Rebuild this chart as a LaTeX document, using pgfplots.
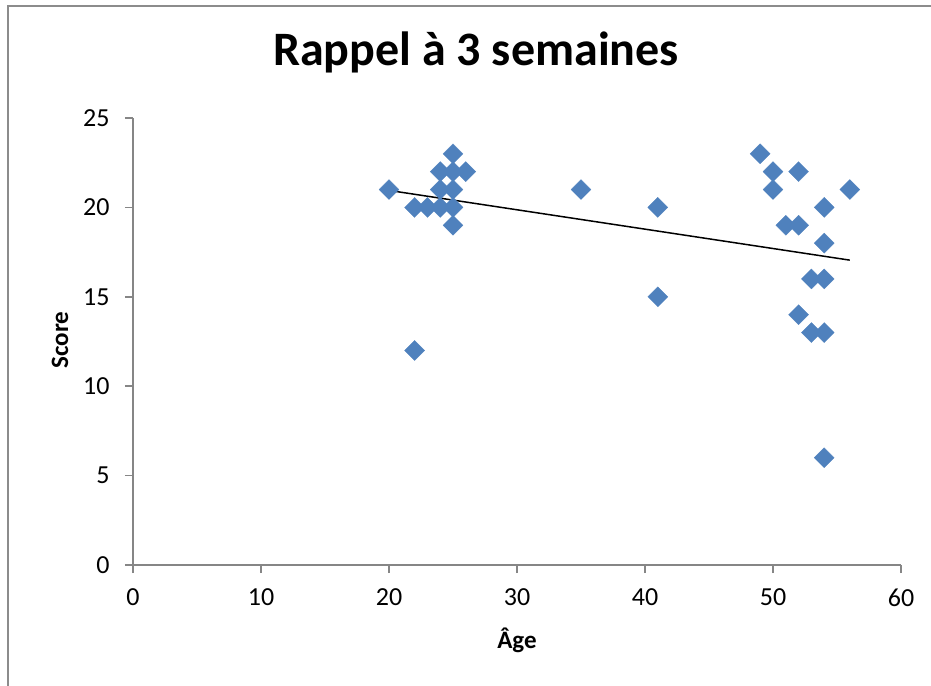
\documentclass[border=0pt]{standalone}
\usepackage{pgfplots}
\pgfplotsset{compat=1.18}
\usepackage{fontspec}
\setmainfont{Carlito}
\definecolor{markblue}{HTML}{4F81BD}
\definecolor{axisgray}{HTML}{868686}
\definecolor{framegray}{HTML}{8C8C8C}

\pgfplotstableread{
age score
20 21
25 23
24 22
25 22
26 22
24 21
25 21
22 20
23 20
24 20
25 20
25 19
22 12
35 21
41 20
41 15
49 23
50 22
52 22
50 21
56 21
54 20
51 19
52 19
54 18
53 16
54 16
52 14
53 13
54 13
54 6
}\scoredata

\begin{document}
\begin{tikzpicture}
  \useasboundingbox (0bp,0bp) rectangle (931bp,686bp);
  % chart frame (cropped at right and bottom)
  \draw[framegray, line width=1.5bp] (8bp,0bp) -- (8bp,680bp) -- (931bp,680bp);

  \begin{axis}[
    at={(133bp,121bp)}, anchor=south west,
    scale only axis,
    width=768bp, height=447bp,
    xmin=0, xmax=60,
    ymin=0, ymax=25,
    xtick={0,10,...,60},
    ytick={0,5,...,25},
    axis lines*=left,
    axis line style={axisgray, line width=1.5bp},
    tick align=outside,
    major tick length=8bp,
    tick style={axisgray, line width=1.5bp},
    /pgf/number format/assume math mode=true,
    ticklabel style={font=\fontsize{26bp}{30bp}\selectfont, text=black},
    xticklabel style={yshift=-12bp},
    yticklabel style={xshift=-12bp},
    title={Rappel à 3 semaines},
    title style={at={(axis description cs:0.4466,1.105)}, anchor=base,
      font=\fontsize{48bp}{56bp}\selectfont\bfseries},
    xlabel={Âge},
    xlabel style={at={(axis description cs:0.5,-0.168)}, anchor=center,
      font=\fontsize{25bp}{30bp}\selectfont\bfseries},
    ylabel={Score},
    ylabel style={at={(axis description cs:-0.095,0.503)}, anchor=center, rotate=0,
      font=\fontsize{25bp}{30bp}\selectfont\bfseries},
    clip=false,
  ]
    \addplot[only marks, mark=square*, mark size=7.07bp, color=markblue,
      mark options={rotate=45, fill=markblue, draw=markblue, line width=0.3bp}]
      table[x=age, y=score] {\scoredata};
    % linear trend line
    \addplot[black, line width=1.5bp] coordinates {(20,20.95) (56,17.05)};
  \end{axis}
\end{tikzpicture}
\end{document}
